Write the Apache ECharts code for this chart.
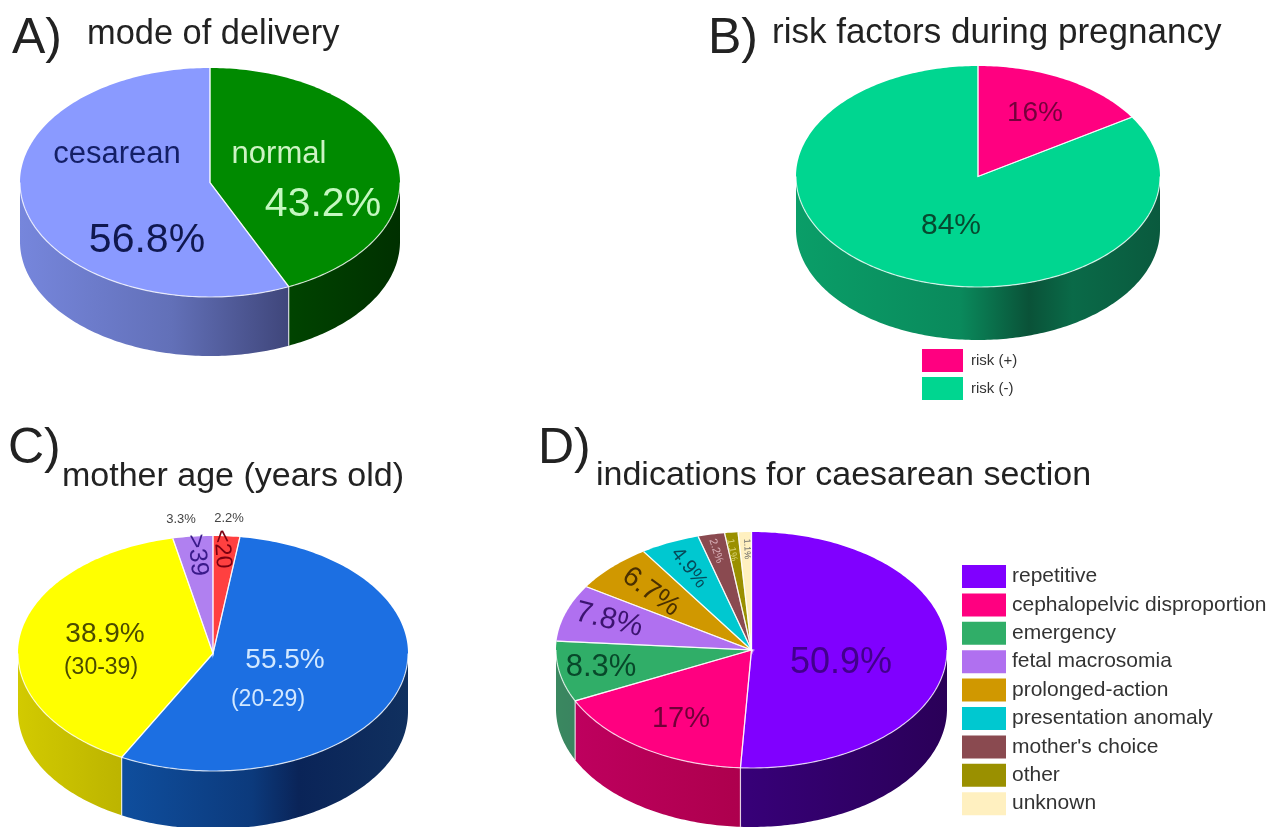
<!DOCTYPE html>
<html>
<head>
<meta charset="utf-8">
<title>Caesarean section study: four pie charts</title>
<style>html,body{margin:0;padding:0;background:#fff}#chart{width:1277px;height:827px}</style>
<script src="https://cdn.jsdelivr.net/npm/echarts@6/dist/echarts.min.js"></script>
</head>
<body>
<div id="chart"></div>
<script>
// Category names and percentages of each pie, clockwise from twelve o'clock
const deliveryNames = ['normal', 'cesarean'];
const deliveryValues = [43.2, 56.8];
const riskNames = ['risk (+)', 'risk (-)'];
const riskValues = [16, 84];
const ageNames = ['<20', '20-29', '30-39', '>39'];
const ageValues = [2.2, 55.5, 38.9, 3.3];
const indicationNames = ['repetitive', 'cephalopelvic disproportion', 'emergency', 'fetal macrosomia',
  'prolonged-action', 'presentation anomaly', "mother's choice", 'other', 'unknown'];
const indicationValues = [50.9, 17, 8.3, 7.8, 6.7, 4.9, 2.2, 1.1, 1.1];

const FONT = '"Liberation Sans", Arial, sans-serif';

// Slice face colours, wall gradients (offset across the pie width) and value labels
const pies = [
  {
    names: deliveryNames, values: deliveryValues,
    cx: 210, cy: 182.5, rx: 190, ry: 114.5, depth: 59,
    colors: ['#008a00', '#8a9aff'],
    walls: [
      [[0.7, '#004400'], [1, '#003000']],
      [[0, '#7686dc'], [0.4, '#6270b8'], [0.7, '#40477c']]
    ],
    labels: [
      [{ text: 'normal', x: 279, y: 154, size: 31, fill: '#cdf3c4' }, { pct: true, x: 323, y: 205, size: 41, fill: '#c4f8c0' }],
      [{ text: 'cesarean', x: 117, y: 154, size: 31, fill: '#141f66' }, { pct: true, x: 147, y: 241, size: 41, fill: '#10184f' }]
    ]
  },
  {
    names: riskNames, values: riskValues,
    cx: 978, cy: 176.5, rx: 182, ry: 110.5, depth: 53,
    colors: ['#ff0080', '#00d690'],
    walls: [
      [[0, '#0a9c68'], [1, '#0a5c40']],
      [[0, '#0a9e68'], [0.45, '#0a8a5c'], [0.64, '#0a5238'], [0.76, '#0a6a48'], [1, '#0a5a3e']]
    ],
    labels: [
      [{ pct: true, x: 1035, y: 113, size: 28, fill: '#75003c' }],
      [{ pct: true, x: 951, y: 226, size: 30, fill: '#064a30' }]
    ]
  },
  {
    names: ageNames, values: ageValues,
    cx: 213, cy: 653.5, rx: 195, ry: 117.5, depth: 58,
    colors: ['#ff4040', '#1c6fe2', '#ffff00', '#b080f0'],
    walls: [
      [[0, '#c03030'], [1, '#a02020']],
      [[0.25, '#0f4f9f'], [0.6, '#0c3a7c'], [0.72, '#0a2458'], [1, '#10305f']],
      [[0, '#d2ca00'], [0.27, '#bcb400']],
      [[0, '#8060b0'], [1, '#8060b0']]
    ],
    labels: [
      [{ pct: true, x: 229, y: 518, size: 13, fill: '#444' }, { text: '<20', x: 222, y: 549, size: 23, fill: '#7a0010', rot: -86 }],
      [{ pct: true, x: 285, y: 660, size: 28, fill: '#d2e8ff' }, { text: '(20-29)', x: 268, y: 700, size: 23, fill: '#d2e8ff' }],
      [{ pct: true, x: 105, y: 634, size: 28, fill: '#4a4a00' }, { text: '(30-39)', x: 101, y: 668, size: 23, fill: '#4a4a00' }],
      [{ pct: true, x: 181, y: 519, size: 13, fill: '#444' }, { text: '>39', x: 197, y: 555, size: 25, fill: '#3a1a8a', rot: -84 }]
    ]
  },
  {
    names: indicationNames, values: indicationValues,
    cx: 751.5, cy: 650, rx: 195.5, ry: 118, depth: 59,
    colors: ['#8000ff', '#ff0080', '#30ae68', '#b070f0', '#d09800', '#00c8d0', '#8a4a50', '#9a9000', '#fff0c0'],
    walls: [
      [[0.45, '#38007a'], [1, '#2a0058']],
      [[0, '#c00060'], [0.5, '#ac004c']],
      [[0, '#3a8860'], [0.1, '#3a8060']],
      [[0, '#8050b0'], [1, '#8050b0']],
      [[0, '#906800'], [1, '#906800']],
      [[0, '#008890'], [1, '#008890']],
      [[0, '#5a3034'], [1, '#5a3034']],
      [[0, '#6a6400'], [1, '#6a6400']],
      [[0, '#c0b490'], [1, '#c0b490']]
    ],
    labels: [
      [{ pct: true, x: 841, y: 663, size: 36, fill: '#42008c' }],
      [{ pct: true, x: 681, y: 719, size: 29, fill: '#700038' }],
      [{ pct: true, x: 601, y: 667, size: 31, fill: '#08482a' }],
      [{ pct: true, x: 609, y: 620, size: 30, fill: '#3c1470', rot: -14 }],
      [{ pct: true, x: 651, y: 592, size: 28, fill: '#4a3000', rot: -36 }],
      [{ pct: true, x: 689, y: 568, size: 20, fill: '#064a5a', rot: -52 }],
      [{ pct: true, x: 716, y: 551, size: 11, fill: '#d8b0b8', rot: -72 }],
      [{ pct: true, x: 732, y: 550, size: 10, fill: '#d8d070', rot: -80 }],
      [{ pct: true, x: 747, y: 549, size: 9, fill: '#666', rot: -88 }]
    ]
  }
];

const headings = [
  { text: 'A)', left: 12, top: 14, size: 50 },
  { text: 'mode of delivery', left: 87, top: 18, size: 34.4 },
  { text: 'B)', left: 708, top: 14, size: 50 },
  { text: 'risk factors during pregnancy', left: 772, top: 16, size: 35 },
  { text: 'C)', left: 8, top: 424, size: 50 },
  { text: 'mother age (years old)', left: 62, top: 460, size: 34 },
  { text: 'D)', left: 538, top: 424, size: 50 },
  { text: 'indications for caesarean section', left: 596, top: 459, size: 34 }
];

const RIM = 'rgba(255,255,255,0.75)';

// Point on the elliptical rim; angle in degrees, clockwise from the top
function rimPoint(p, deg, drop) {
  const a = deg * Math.PI / 180;
  return [p.cx + p.rx * Math.sin(a), p.cy - p.ry * Math.cos(a) + (drop || 0)];
}
function arc(p, from, to, drop) {
  const pts = [];
  const n = Math.max(2, Math.ceil(Math.abs(to - from)));
  for (let i = 0; i <= n; i++) pts.push(rimPoint(p, from + (to - from) * i / n, drop));
  return pts;
}

// One slice: front wall (if any part faces the viewer), top face, rim and labels
function sliceRenderer(p, index) {
  return function (params, api) {
    const value = api.value(0), before = api.value(1), total = api.value(2);
    const start = before / total * 360;
    const end = (before + value) / total * 360;
    const children = [];
    const wallFrom = Math.max(start, 90), wallTo = Math.min(end, 270);
    const stops = p.walls[index];
    if (wallTo > wallFrom) {
      const top = arc(p, wallFrom, wallTo, 0);
      const bottom = arc(p, wallTo, wallFrom, p.depth);
      children.push({
        type: 'polygon',
        shape: { points: top.concat(bottom) },
        style: {
          fill: {
            type: 'linear', global: true,
            x: p.cx - p.rx, y: 0, x2: p.cx + p.rx, y2: 0,
            colorStops: stops.map(s => ({ offset: s[0], color: s[1] }))
          }
        }
      });
      children.push({
        type: 'polyline', z2: 2,
        shape: { points: top },
        style: { fill: 'none', stroke: RIM, lineWidth: 1.2 }
      });
      if (wallTo < 270) {
        const q = rimPoint(p, wallTo, 0);
        children.push({
          type: 'line', z2: 2,
          shape: { x1: q[0], y1: q[1], x2: q[0], y2: q[1] + p.depth },
          style: { stroke: RIM, lineWidth: 1.2 }
        });
      }
    }
    children.push({
      type: 'polygon', z2: 1,
      shape: { points: [[p.cx, p.cy]].concat(arc(p, start, end, 0)) },
      style: { fill: p.colors[index] }
    });
    const s0 = rimPoint(p, start, 0), s1 = rimPoint(p, end, 0);
    children.push({
      type: 'polyline', z2: 2,
      shape: { points: [s0, [p.cx, p.cy], s1] },
      style: { fill: 'none', stroke: RIM, lineWidth: 1.2 }
    });
    p.labels[index].forEach(l => {
      children.push({
        type: 'text', z2: 5,
        x: l.x, y: l.y,
        rotation: (l.rot || 0) * Math.PI / 180,
        style: {
          text: l.pct ? value + '%' : l.text,
          fontFamily: FONT, fontSize: l.size, fill: l.fill,
          align: 'center', verticalAlign: 'middle'
        }
      });
    });
    return { type: 'group', children: children };
  };
}

const series = [];
pies.forEach(p => {
  const total = p.values.reduce((a, b) => a + b, 0);
  let before = 0;
  p.values.forEach((v, i) => {
    series.push({
      type: 'custom',
      name: p.names[i],
      coordinateSystem: 'none',
      silent: true,
      animation: false,
      itemStyle: { color: p.colors[i] },
      data: [[v, before, total]],
      renderItem: sliceRenderer(p, i)
    });
    before += v;
  });
});

const option = {
  backgroundColor: '#fff',
  animation: false,
  title: headings.map(h => ({
    text: h.text, left: h.left, top: h.top, padding: 0,
    textStyle: { fontFamily: FONT, fontSize: h.size, fontWeight: 'normal', color: '#222' }
  })),
  legend: [
    {
      data: riskNames, orient: 'vertical', left: 922, top: 349, padding: 0,
      icon: 'rect', itemWidth: 41, itemHeight: 23, itemGap: 5, selectedMode: false,
      textStyle: { fontFamily: FONT, fontSize: 15, color: '#333', padding: [4, 0, 0, 3] }
    },
    {
      data: indicationNames, orient: 'vertical', left: 962, top: 565, padding: 0,
      icon: 'rect', itemWidth: 44, itemHeight: 23, itemGap: 5.4, selectedMode: false,
      textStyle: { fontFamily: FONT, fontSize: 21, color: '#333', padding: [6, 0, 0, 1] }
    }
  ],
  series: series
};

const chart = echarts.init(document.getElementById('chart'), null, { renderer: 'canvas' });
chart.setOption(option);
</script>
</body>
</html>
